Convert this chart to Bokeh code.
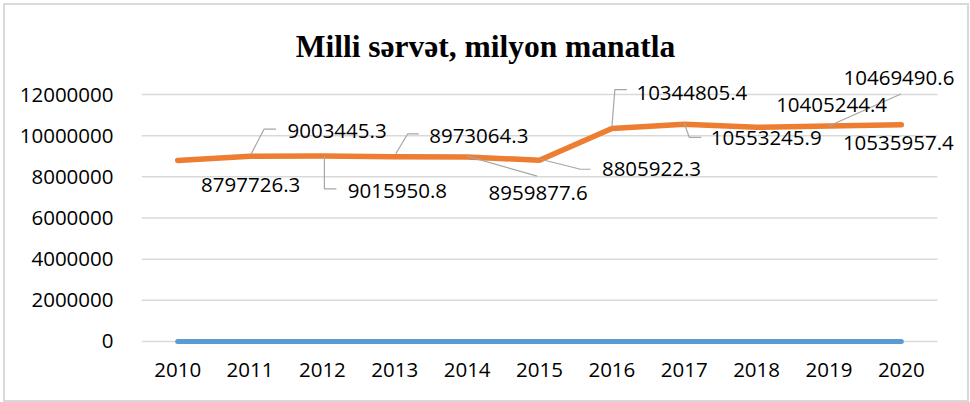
from bokeh.plotting import figure
from bokeh.models import ColumnDataSource, Range1d, FixedTicker, NumeralTickFormatter, Label
from bokeh.core.properties import value
from bokeh.embed import file_html
from bokeh.resources import INLINE

# ---------------- data ----------------
years = ["2010", "2011", "2012", "2013", "2014", "2015",
         "2016", "2017", "2018", "2019", "2020"]
national_wealth = [8797726.3, 9003445.3, 9015950.8, 8973064.3, 8959877.6,
                   8805922.3, 10344805.4, 10553245.9, 10405244.4,
                   10469490.6, 10535957.4]
year_series = [2010, 2011, 2012, 2013, 2014, 2015, 2016, 2017, 2018, 2019, 2020]
y_ticks = [0, 2000000, 4000000, 6000000, 8000000, 10000000, 12000000]
title_text = "Milli sərvət, milyon manatla"

# ---------------- layout / style ----------------
OFF = 5                                   # figure offset inside the page border
W, H = 962, 395
BL, BR, BT, BB = 141 - OFF, 1, 10 - OFF, 50
FRAME_W = W - BL - BR
FRAME_H = H - BT - BB
PX_X = 796 / len(years)                   # pixels per category
X_MIN = -0.5
X_MAX = X_MIN + FRAME_W / PX_X
Y_MIN, Y_MAX = -437250, 16081000
PX_Y = (Y_MAX - Y_MIN) / FRAME_H          # value units per pixel

# label centre offsets from each point (pixels, screen y downwards)
label_dx = [73, 87, 75, 84, 71, 112, 80, 82, 75, 70, -3]
label_dy = [25, -25, 35, -21, 36, 9, -36, 14, -22, -48, 18]

# leader polylines (pixel offsets from the point, screen y downwards)
leaders = {
    1: [(1, -2), (14, -27), (26, -27)],
    2: [(2, 0), (2, 33), (14, 33)],
    3: [(1, -3), (13, -23), (24, -23)],
    4: [(0, -1), (70, 19)],
    5: [(1, -1), (41, 9), (51, 9)],
    6: [(0, -1), (3, -39), (15, -39)],
    7: [(0, -1), (5, 13), (17, 13)],
    9: [(0, 0), (72, -32)],
}

ORANGE = "#ed7d31"
BLUE = "#5b9bd5"
GRID = "#d9d9d9"
LEADER = "#a6a6a6"
FONT = "Open Sans"
FS = "20.5px"

xi = list(range(len(years)))

p = figure(width=W, height=H, x_range=Range1d(X_MIN, X_MAX),
           y_range=Range1d(Y_MIN, Y_MAX), output_backend="svg",
           toolbar_location=None, min_border_left=BL, min_border_right=BR,
           min_border_top=BT, min_border_bottom=BB)
p.outline_line_color = None
p.background_fill_color = "white"
p.border_fill_color = "white"
p.styles = {"margin": f"{OFF}px 0 0 {OFF}px",
            "outline": "2px solid #d9d9d9", "outline-offset": "0px"}

# axes
p.yaxis.ticker = FixedTicker(ticks=y_ticks)
p.yaxis.formatter = NumeralTickFormatter(format="0")
p.xaxis.ticker = FixedTicker(ticks=xi)
p.xaxis.major_label_overrides = {i: y for i, y in zip(xi, years)}
for ax in (p.xaxis[0], p.yaxis[0]):
    ax.axis_line_color = None
    ax.major_tick_line_color = None
    ax.minor_tick_line_color = None
    ax.major_label_text_font = FONT
    ax.major_label_text_font_size = FS
    ax.major_label_text_color = "#000000"
p.yaxis.major_label_standoff = 22
p.xaxis.major_label_standoff = 6
p.xgrid.grid_line_color = None
p.ygrid.grid_line_color = None

# horizontal gridlines spanning the category area
p.segment(x0=[X_MIN] * len(y_ticks), x1=[len(years) - 0.5] * len(y_ticks),
          y0=y_ticks, y1=y_ticks, line_color=GRID, line_width=1.5)

src = ColumnDataSource(dict(x=xi, y=national_wealth, yr=year_series,
                            dx=label_dx, dy=label_dy,
                            txt=[f"{v:.1f}" for v in national_wealth]))
p.line("x", "yr", source=src, line_color=BLUE, line_width=5, line_cap="round")
p.line("x", "y", source=src, line_color=ORANGE, line_width=5.5,
       line_cap="round", line_join="round")

# leader lines (pixel offsets converted to data units)
xs, ys = [], []
for i, pts in leaders.items():
    xs.append([xi[i] + dx / PX_X for dx, dy in pts])
    ys.append([national_wealth[i] - dy * PX_Y for dx, dy in pts])
p.multi_line(xs, ys, line_color=LEADER, line_width=1.2)

p.text("x", "y", text="txt", source=src, x_offset="dx", y_offset="dy",
       text_align="center", text_baseline="middle",
       text_font=value(FONT), text_font_size=FS, text_color="#000000")

# title
p.add_layout(Label(x=485 - OFF, y=46 - OFF, x_units="canvas", y_units="canvas",
                   text=title_text, text_align="center",
                   text_baseline="alphabetic",
                   text_font="Liberation Serif", text_font_style="bold",
                   text_font_size="31.5px", text_color="#000000"))

open("out.html", "w").write(file_html(p, INLINE))
